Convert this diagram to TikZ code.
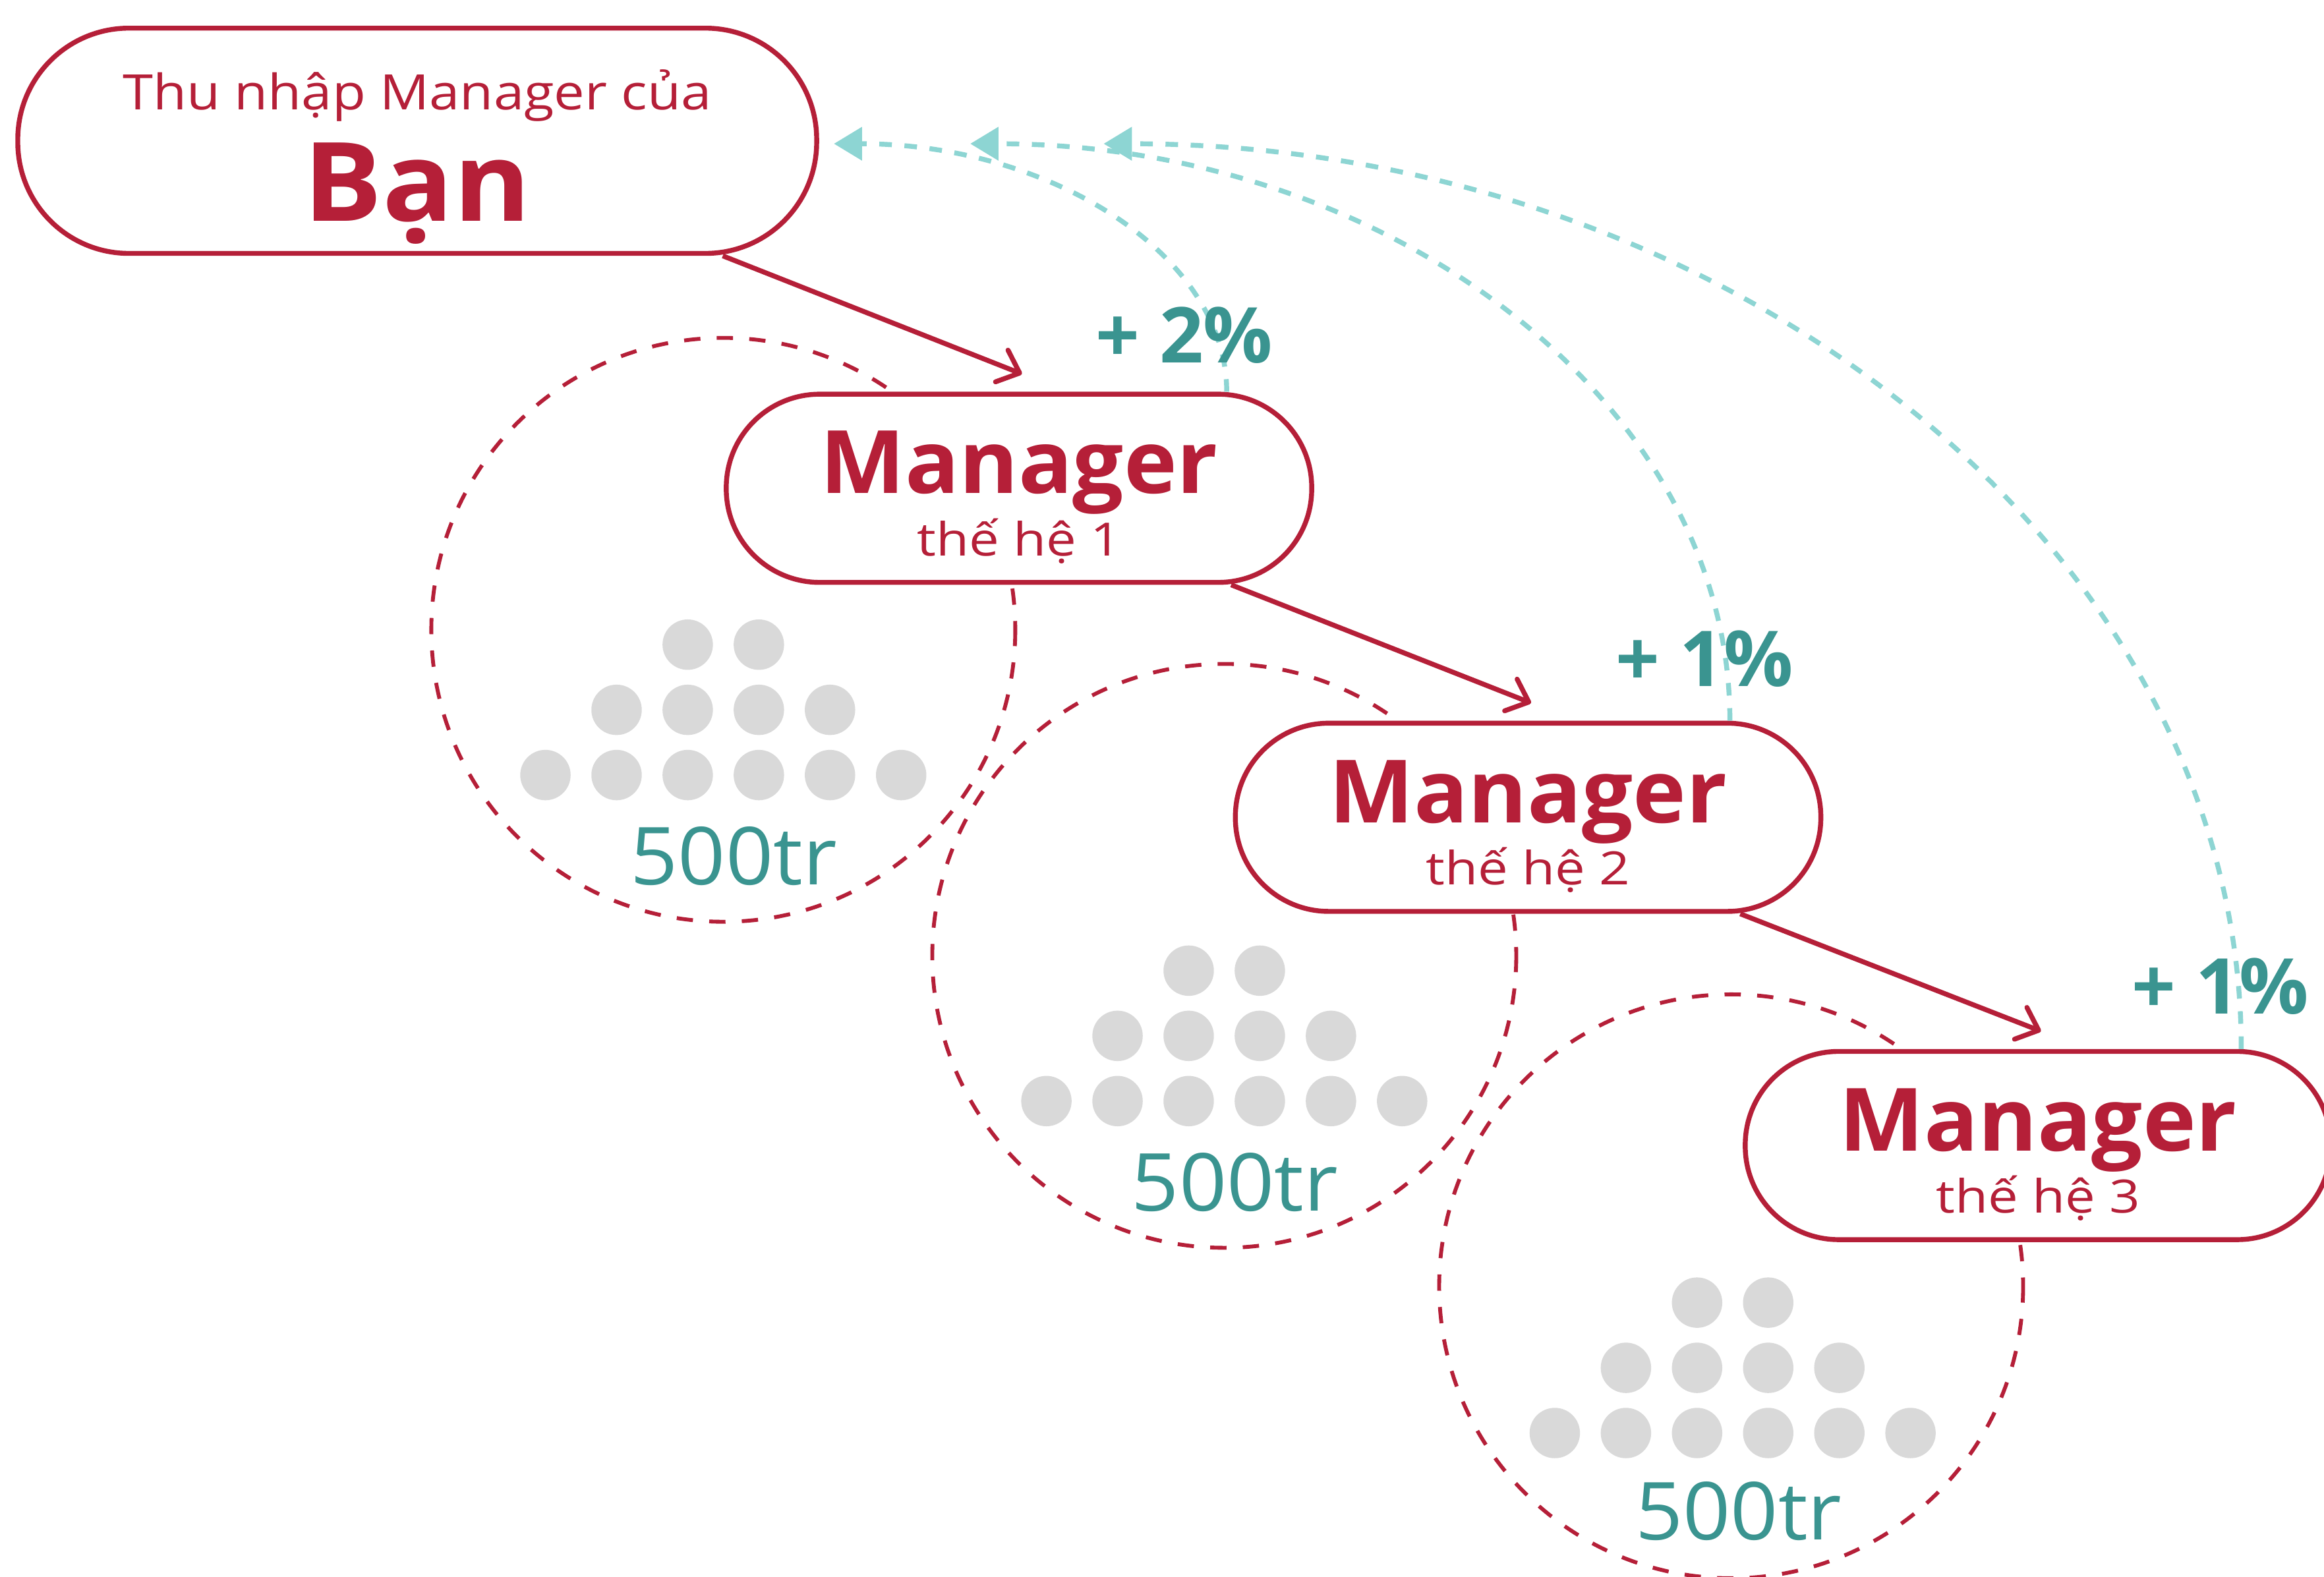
\documentclass[tikz,border=0pt]{standalone}
\usepackage{fontspec}
\setmainfont{Open Sans}
\usetikzlibrary{arrows.meta,calc}
\definecolor{cred}{HTML}{B51F38}
\definecolor{cteal}{HTML}{3A9490}
\definecolor{ccyan}{HTML}{8DD5D3}
\definecolor{cgrey}{HTML}{D9D9D9}
\begin{document}
\begin{tikzpicture}[x=1pt,y=-1pt,
  pill/.style={draw=cred, line width=3.3pt, fill=white, rounded corners=#1, inner sep=0pt},
  circdash/.style={draw=cred, line width=2.6pt, dash pattern=on 11pt off 11pt},
  redarrow/.style={draw=cred, line width=3.3pt, -{Straight Barb[length=13pt,width=23pt,line width=3.3pt,round]}},
  cyanarrow/.style={draw=ccyan, line width=3.3pt, dash pattern=on 8.5pt off 8.5pt, -{Triangle[length=19pt,width=22pt]}},
  bigtxt/.style={text=cred, font=\bfseries\fontsize{59}{60}\selectfont\addfontfeatures{FakeStretch=1.03}, anchor=base, inner sep=0pt},
  subtxt/.style={text=cred, font=\fontsize{31}{32}\selectfont\addfontfeatures{FakeStretch=1.17}, anchor=base, inner sep=0pt},
  amttxt/.style={text=cteal, font=\fontsize{54}{56}\selectfont\addfontfeatures{FakeStretch=1.04}, anchor=base, inner sep=0pt},
  pcttxt/.style={text=cteal, font=\bfseries\fontsize{52}{54}\selectfont, anchor=base, inner sep=0pt},
  dot/.style={fill=cgrey}
]
\useasboundingbox (0,0) rectangle (1568,1064);
\fill[white] (0,0) rectangle (1568,1064);

% dashed circles
\draw[circdash] (488,425) circle (197);
\draw[circdash] (826,645) circle (197);
\draw[circdash] (1168,868) circle (197);

% dots
\foreach \bx/\by in {368/523, 706/743, 1049/967}{
  \foreach \i in {0,...,5} \fill[dot] (\bx+48*\i,\by) circle (17);
  \foreach \i in {1,...,4} \fill[dot] (\bx+48*\i,\by-44) circle (17);
  \foreach \i in {2,3} \fill[dot] (\bx+48*\i,\by-88) circle (17);
}

% amounts
\node[amttxt] (a1) at (495,597) {500tr};
\node[amttxt] (a2) at (833,817) {500tr};
\node[amttxt] (a3) at (1173,1039) {500tr};

% boxes
\node[pill=75pt, minimum width=539pt, minimum height=152pt] (b0) at (281.5,95) {};
\node[pill=63pt, minimum width=395pt, minimum height=127pt] (b1) at (687.5,329.5) {};
\node[pill=63pt, minimum width=395pt, minimum height=127pt] (b2) at (1031,551.5) {};
\node[pill=63pt, minimum width=395pt, minimum height=127pt] (b3) at (1375,773) {};

% box texts
\node[subtxt, font=\fontsize{33}{34}\selectfont\addfontfeatures{FakeStretch=1.12}] (t0a) at ($(b0.center)+(0,-21)$) {Thu nhập Manager của};
\node[bigtxt, font=\bfseries\fontsize{74}{75}\selectfont\addfontfeatures{FakeStretch=1.07}] (t0b) at ($(b0.center)+(0,54)$) {Bạn};
\node[bigtxt] (t1a) at ($(b1.center)+(0,3.5)$) {Manager};
\node[subtxt] (t1b) at ($(b1.center)+(0,45.5)$) {thế hệ 1};
\node[bigtxt] (t2a) at ($(b2.center)+(0,3.5)$) {Manager};
\node[subtxt] (t2b) at ($(b2.center)+(0,45.5)$) {thế hệ 2};
\node[bigtxt] (t3a) at ($(b3.center)+(0,3.5)$) {Manager};
\node[subtxt] (t3b) at ($(b3.center)+(0,45.5)$) {thế hệ 3};

% red arrows
\draw[redarrow] ($(b0.south east)+(-65,0)$) -- ($(b1.north)+(2,-12)$);
\draw[redarrow] ($(b1.south east)+(-56,0)$) -- ($(b2.north)+(2,-12)$);
\draw[redarrow] ($(b2.south east)+(-56,0)$) -- ($(b3.north)+(2,-12)$);

% cyan return curves
\coordinate (s1) at ($(b1.north east)+(-59,0)$);
\coordinate (s2) at ($(b2.north east)+(-63,0)$);
\coordinate (s3) at ($(b3.north east)+(-62,0)$);
\coordinate (e1) at ($(b0.east)+(10,2)$);
\coordinate (e2) at ($(b0.east)+(102,2)$);
\coordinate (e3) at ($(b0.east)+(192,2)$);
\draw[cyanarrow] (s1) .. controls +(0,-93) and +(145,0) .. (e1);
\draw[cyanarrow] (s2) .. controls +(0,-215) and +(282,0) .. (e2);
\draw[cyanarrow] (s3) .. controls +(0,-337) and +(421,0) .. (e3);

% percentages
\node[pcttxt] (p1) at (799,245) {+ 2\%};
\node[pcttxt] (p2) at (1150,463) {+ 1\%};
\node[pcttxt] (p3) at (1498,684) {+ 1\%};
\end{tikzpicture}
\end{document}
